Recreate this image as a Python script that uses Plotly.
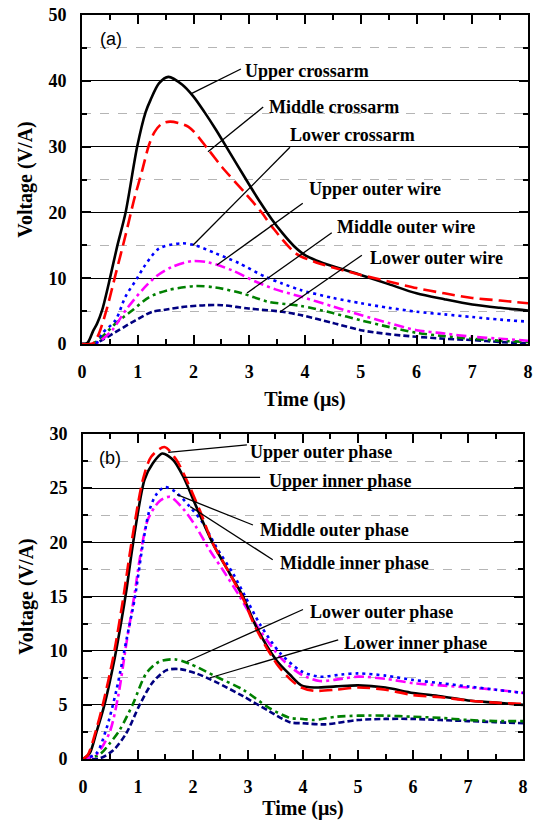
import plotly.graph_objects as go

# ---------------- Panel (a) data ----------------
t_upper_crossarm = [0, 0.1, 0.2, 0.27, 0.36, 0.48, 0.63, 0.78, 0.99, 1.14, 1.23, 1.38, 1.55, 1.8, 2.0,
                    2.2, 2.4, 2.6, 2.8, 3.0, 3.2, 3.4, 3.6, 3.8, 4.0, 4.2, 4.5, 5.0, 5.5, 6.0, 6.5,
                    7.0, 7.5, 8.0]
v_upper_crossarm = [0, 0.2, 2.0, 3.1, 5.1, 9.2, 14.8, 19.9, 30.0, 35.2, 37.1, 39.6, 40.6, 39.4, 37.6,
                    35.2, 32.6, 29.8, 27.0, 24.2, 21.5, 19.0, 16.8, 14.9, 13.5, 12.7, 11.8, 10.5, 9.1,
                    7.7, 6.8, 6.0, 5.5, 5.1]

t_middle_crossarm = [0, 0.2, 0.3, 0.45, 0.6, 0.78, 0.93, 1.08, 1.2, 1.3, 1.42, 1.58, 1.91, 2.27, 2.51,
                     2.93, 3.23, 3.41, 3.83, 4.2, 4.6, 5.0, 5.5, 6.0, 6.5, 7.0, 7.5, 8.0]
v_middle_crossarm = [0, 0.1, 1.5, 5.5, 10.5, 16.5, 21.8, 26.4, 30.2, 32.2, 33.4, 33.8, 33.0, 29.5, 26.9,
                     22.9, 19.9, 17.8, 13.8, 12.4, 11.4, 10.5, 9.5, 8.5, 7.7, 7.0, 6.6, 6.2]

t_lower_crossarm = [0, 0.25, 0.36, 0.6, 0.78, 0.99, 1.11, 1.38, 1.79, 2.03, 2.39, 2.81, 3.29, 3.59, 3.92,
                    4.5, 5.0, 5.5, 6.0, 6.5, 7.0, 7.5, 8.0]
v_lower_crossarm = [0, 0.1, 1.6, 3.6, 7.2, 10.0, 11.7, 14.5, 15.3, 15.0, 13.8, 12.3, 10.2, 9.2, 8.2,
                    7.0, 6.2, 5.5, 4.9, 4.5, 4.1, 3.7, 3.4]

t_upper_outer_wire = [0, 0.25, 0.54, 0.78, 1.08, 1.32, 1.61, 1.97, 2.27, 2.69, 3.11, 3.47, 3.92, 4.5,
                      5.0, 5.5, 6.0, 6.5, 7.0, 7.5, 8.0]
v_upper_outer_wire = [0, 0.1, 2.1, 5.1, 8.2, 10.2, 11.7, 12.6, 12.4, 11.2, 9.5, 8.3, 7.2, 5.7,
                      4.4, 3.2, 2.1, 1.6, 1.1, 0.8, 0.5]

t_middle_outer_wire = [0, 0.2, 0.36, 0.6, 0.9, 1.2, 1.55, 2.03, 2.39, 2.87, 3.35, 3.92, 4.5, 5.0, 5.5,
                       6.0, 6.5, 7.0, 7.5, 8.0]
v_middle_outer_wire = [0, 0.1, 1.1, 3.1, 5.1, 7.1, 8.2, 8.8, 8.6, 7.7, 6.4, 5.8, 4.7, 3.6, 2.6,
                       1.7, 1.2, 0.8, 0.5, 0.3]

t_lower_outer_wire = [0, 0.2, 0.36, 0.66, 0.96, 1.26, 1.49, 1.79, 2.21, 2.51, 2.99, 3.59, 3.92, 4.5, 5.0,
                      5.5, 6.0, 6.5, 7.0, 7.5, 8.0]
v_lower_outer_wire = [0, 0.0, 0.6, 2.1, 3.6, 4.9, 5.2, 5.6, 5.9, 5.9, 5.4, 4.9, 4.4, 3.2, 2.1,
                      1.5, 1.1, 0.8, 0.6, 0.3, 0.1]

# ---------------- Panel (b) data ----------------
t_upper_inner = [0, 0.12, 0.24, 0.39, 0.58, 0.7, 0.79, 0.91, 1.12, 1.27, 1.44, 1.64, 1.82, 2.06, 2.36,
                 2.67, 2.91, 3.15, 3.52, 3.76, 3.97, 4.2, 4.6, 5.0, 5.5, 6.0, 6.5, 7.0, 7.5, 8.0]
v_upper_inner = [0, 0.5, 2.4, 5.0, 9.4, 12.8, 15.6, 19.9, 25.8, 27.3, 28.2, 27.6, 26.1, 23.3, 19.9,
                 17.1, 15.0, 12.2, 9.1, 7.8, 6.8, 6.6, 6.7, 6.8, 6.6, 6.1, 5.8, 5.4, 5.2, 5.0]

t_upper_outer = [0, 0.09, 0.24, 0.36, 0.55, 0.73, 0.88, 1.09, 1.24, 1.48, 1.7, 1.88, 2.12, 2.36, 2.67,
                 2.91, 3.15, 3.52, 3.76, 3.97, 4.2, 4.6, 5.0, 5.5, 6.0, 6.5, 7.0, 7.5, 8.0]
v_upper_outer = [0, 0.4, 2.7, 5.0, 9.4, 14.8, 19.9, 25.8, 27.9, 28.8, 27.6, 25.8, 23.0, 19.9, 17.1,
                 14.8, 12.0, 8.8, 7.4, 6.6, 6.3, 6.4, 6.6, 6.4, 5.9, 5.7, 5.4, 5.2, 5.1]

t_middle_outer = [0, 0.24, 0.42, 0.61, 0.79, 0.94, 1.09, 1.21, 1.33, 1.48, 1.67, 1.94, 2.18, 2.42, 2.73,
                  2.94, 3.21, 3.58, 3.97, 4.3, 4.7, 5.0, 5.5, 6.0, 6.5, 7.0, 7.5, 8.0]
v_middle_outer = [0, 0.5, 2.7, 6.4, 11.0, 14.8, 19.9, 23.0, 24.4, 25.1, 24.7, 23.3, 21.8, 19.6, 17.1,
                  15.1, 12.5, 9.8, 8.1, 7.6, 7.8, 7.9, 7.7, 7.3, 7.0, 6.7, 6.4, 6.1]

t_middle_inner = [0, 0.24, 0.48, 0.64, 0.79, 0.94, 1.03, 1.18, 1.39, 1.58, 1.82, 2.06, 2.3, 2.55, 2.85,
                  3.2, 3.64, 3.97, 4.3, 4.7, 5.0, 5.5, 6.0, 6.5, 7.0, 7.5, 8.0]
v_middle_inner = [0, 0.4, 2.4, 5.8, 10.7, 15.3, 18.4, 22.1, 23.8, 24.2, 23.1, 21.4, 19.3, 17.4, 15.0,
                  12.0, 9.1, 7.8, 7.2, 7.4, 7.6, 7.4, 7.0, 6.8, 6.6, 6.4, 6.1]

t_lower_outer = [0, 0.3, 0.48, 0.67, 0.91, 1.15, 1.39, 1.67, 1.94, 2.42, 2.91, 3.39, 3.76, 4.0, 4.2,
                 4.6, 5.0, 5.5, 6.0, 6.5, 7.0, 7.5, 8.0]
v_lower_outer = [0, 0.4, 1.4, 2.7, 5.1, 7.9, 9.0, 9.2, 8.8, 7.6, 6.4, 4.7, 3.8, 3.7, 3.6,
                 3.9, 4.0, 4.0, 3.9, 3.8, 3.6, 3.5, 3.5]

t_lower_inner = [0, 0.3, 0.55, 0.79, 1.03, 1.27, 1.52, 1.76, 2.06, 2.42, 2.91, 3.39, 3.76, 4.0, 4.4,
                 5.0, 5.5, 6.0, 6.5, 7.0, 7.5, 8.0]
v_lower_inner = [0, 0.05, 0.8, 2.4, 5.0, 7.1, 8.2, 8.3, 7.9, 7.1, 5.8, 4.4, 3.4, 3.3, 3.2,
                 3.6, 3.7, 3.7, 3.6, 3.5, 3.4, 3.3]

# label texts
labels_a = ["Upper crossarm", "Middle crossarm", "Lower crossarm",
            "Upper outer wire", "Middle outer wire", "Lower outer wire"]
labels_b = ["Upper outer phase", "Upper inner phase", "Middle outer phase",
            "Middle inner phase", "Lower outer phase", "Lower inner phase"]

BLACK = "#000000"
RED = "#FF0000"
BLUE = "#0000FF"
MAGENTA = "#FF00FF"
GREEN = "#008000"
NAVY = "#000080"

SOLID = "solid"
DASH_RED = "13px,6px"
DOT_BLUE = "3px,4px"
DASHDOT_MAG = "10px,4px,3px,4px"
DASHDOT_GRN = "8px,4px,3px,4px"
DASH_NAVY = "6px,3px"

fig = go.Figure()


def add(t, v, color, dash, xa, ya, width=2.6):
    fig.add_trace(go.Scatter(x=t, y=v, mode="lines", xaxis=xa, yaxis=ya,
                             line=dict(color=color, dash=dash, width=width,
                                       shape="spline", smoothing=0.8),
                             showlegend=False, hoverinfo="skip"))


# panel (a)
add(t_lower_outer_wire, v_lower_outer_wire, NAVY, DASH_NAVY, "x", "y")
add(t_middle_outer_wire, v_middle_outer_wire, GREEN, DASHDOT_GRN, "x", "y")
add(t_upper_outer_wire, v_upper_outer_wire, MAGENTA, DASHDOT_MAG, "x", "y")
add(t_lower_crossarm, v_lower_crossarm, BLUE, DOT_BLUE, "x", "y")
add(t_upper_crossarm, v_upper_crossarm, BLACK, SOLID, "x", "y")
add(t_middle_crossarm, v_middle_crossarm, RED, DASH_RED, "x", "y")

# panel (b)
add(t_lower_inner, v_lower_inner, NAVY, DASH_NAVY, "x2", "y2")
add(t_lower_outer, v_lower_outer, GREEN, DASHDOT_GRN, "x2", "y2")
add(t_middle_inner, v_middle_inner, MAGENTA, DASHDOT_MAG, "x2", "y2")
add(t_middle_outer, v_middle_outer, BLUE, DOT_BLUE, "x2", "y2")
add(t_upper_inner, v_upper_inner, BLACK, SOLID, "x2", "y2")
add(t_upper_outer, v_upper_outer, RED, DASH_RED, "x2", "y2")

SERIF = "Liberation Serif"
SANS = "Liberation Sans"
tickfont = dict(family=SERIF, size=18, color="black", weight="bold")
titlefont = dict(family=SERIF, size=20, color="black", weight="bold")

xcommon = dict(range=[0, 8], dtick=1, tick0=0, ticks="inside", ticklen=9, tickwidth=2,
               tickcolor="black", showline=True, linewidth=2, linecolor="black",
               mirror="ticks", showgrid=False, zeroline=False, tickfont=tickfont,
               ticklabelstandoff=10, automargin=False,
               minor=dict(dtick=0.5, ticks="inside", ticklen=5, tickwidth=2, tickcolor="black",
                          showgrid=False),
               title=dict(text="Time (μs)", font=titlefont, standoff=11))

ycommon = dict(ticks="inside", ticklen=9, tickwidth=2, tickcolor="black",
               showline=True, linewidth=2, linecolor="black", mirror="ticks",
               showgrid=True, gridcolor="black", gridwidth=1.3, zeroline=False,
               tickfont=tickfont, ticklabelstandoff=10, automargin=False,
               title=dict(text="Voltage (V/A)", font=titlefont, standoff=10))

fig.update_layout(
    width=533, height=820,
    margin=dict(l=82, r=5, t=15, b=61),
    paper_bgcolor="white", plot_bgcolor="white",
    xaxis=dict(domain=[0, 1], anchor="y", **xcommon),
    yaxis=dict(domain=[0.5578, 1], anchor="x", range=[0, 50], dtick=10,
               minor=dict(dtick=5, ticks="inside", ticklen=5, tickwidth=2, tickcolor="black",
                          showgrid=True, gridcolor="#b5b5b5", griddash="dash", gridwidth=1),
               **ycommon),
    xaxis2=dict(domain=[0.0022, 0.9888], anchor="y2", **xcommon),
    yaxis2=dict(domain=[0, 0.4368], anchor="x2", range=[0, 30], dtick=5,
                minor=dict(dtick=2.5, ticks="inside", ticklen=5, tickwidth=2, tickcolor="black",
                           showgrid=True, gridcolor="#b5b5b5", griddash="dash", gridwidth=1),
                **ycommon),
)

labfont = dict(family=SERIF, size=18, color="black", weight="bold")

# (text x, text y, pointer start x, y, pointer end x, y)
pos_a = [(2.89, 41.5, 2.85, 41.8, 1.97, 38.1),
         (3.32, 36.0, 3.25, 36.0, 2.26, 29.2),
         (3.70, 31.8, 3.73, 29.9, 1.99, 15.0),
         (4.04, 23.6, 3.96, 21.4, 2.42, 12.0),
         (4.54, 17.8, 4.48, 16.9, 2.96, 7.75),
         (5.13, 13.1, 5.02, 13.5, 3.55, 4.86)]
pos_b = [(3.00, 28.3, 2.98, 29.0, 1.55, 28.3),
         (3.35, 25.7, 3.22, 26.0, 1.82, 26.0),
         (3.18, 21.1, 3.09, 21.6, 1.71, 24.4),
         (3.55, 18.1, 3.45, 18.4, 1.95, 23.3),
         (4.09, 13.6, 4.00, 13.8, 1.89, 9.0),
         (4.71, 10.7, 4.64, 11.0, 2.31, 7.5)]

anns = []
shapes = []
for labs, poss, xr, yr in [(labels_a, pos_a, "x", "y"), (labels_b, pos_b, "x2", "y2")]:
    for lab, (tx, ty, x0, y0, x1, y1) in zip(labs, poss):
        anns.append(dict(text=lab, x=tx, y=ty, xref=xr, yref=yr, xanchor="left",
                         yanchor="middle", showarrow=False, font=labfont))
        shapes.append(dict(type="line", xref=xr, yref=yr, x0=x0, y0=y0, x1=x1, y1=y1,
                           line=dict(color="black", width=1.3)))

anns.append(dict(text="(a)", x=0.52, y=46.4, xref="x", yref="y", showarrow=False,
                 font=dict(family=SANS, size=18, color="black")))
anns.append(dict(text="(b)", x=0.49, y=27.8, xref="x2", yref="y2", showarrow=False,
                 font=dict(family=SANS, size=18, color="black")))

fig.update_layout(annotations=anns, shapes=shapes)

fig.write_html("out.html", config={"displayModeBar": False},
               post_script="document.body.style.margin='0';document.body.style.padding='0';"
                           "document.body.style.overflow='hidden';")
